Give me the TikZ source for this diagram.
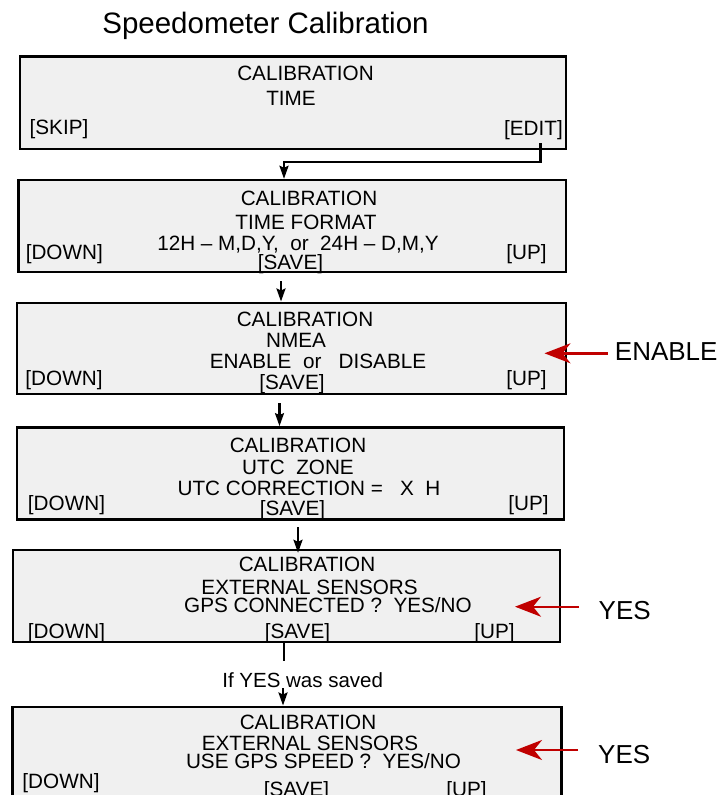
\documentclass[tikz,border=0pt]{standalone}
\usepackage{fontspec}
\setmainfont{Liberation Sans}
\usepackage{xcolor}
\usetikzlibrary{arrows.meta}

\definecolor{screengray}{RGB}{240,240,240}
\definecolor{pickred}{RGB}{192,0,0}
\newcommand{\scrsize}{\fontsize{20.7pt}{24pt}\selectfont}
\newcommand{\notesize}{\fontsize{20.5pt}{24pt}\selectfont}
\newcommand{\picksize}{\fontsize{26pt}{31pt}\selectfont}

\begin{document}
\begin{tikzpicture}[x=1pt, y=-1pt,
		screen/.style={rectangle, draw=black, line width=2.4pt, fill=screengray, inner sep=0pt},
		txt/.style={anchor=base, inner sep=0pt, font=\scrsize},
		flow/.style={line width=2.3pt, -{Stealth[length=13pt,width=9pt,inset=2pt]}},
		link/.style={line width=2.3pt},
		pick/.style={draw=pickred, line width=2.4pt, -{Stealth[length=26pt,width=20pt,inset=8pt]}},
		pickword/.style={anchor=base west, inner sep=0pt, font=\picksize}]
		
		\useasboundingbox (0,0) rectangle (720,795);
		\clip (0,0) rectangle (720,795);
		
		% Title
		\node[anchor=base, inner sep=0pt, font=\fontsize{29.5pt}{35pt}\selectfont] (title) at (265.5,33.3) {Speedometer Calibration};
		
		% =========================================================
		% Screens
		% =========================================================
		\node[screen, minimum width=546pt, minimum height=92.5pt] (scrtime) at (293,102.75) {};
		\node[screen, minimum width=547.5pt, minimum height=91.7pt] (scrfmt) at (292.25,225.85) {};
		\node[screen, minimum width=549pt, minimum height=91.3pt] (scrnmea) at (291.5,348.35) {};
		\node[screen, minimum width=547pt, minimum height=92pt] (scrutc) at (290.5,473.3) {};
		\node[screen, minimum width=547pt, minimum height=92pt] (scrgps) at (286.5,596) {};
		\node[screen, minimum width=549pt, minimum height=92pt] (scrspeed) at (287,752.7) {};
		
		% Screen 1: time
		\node[txt] (cal1) at (305.5,80.7) {CALIBRATION};
		\node[txt] (time1) at (291,105) {TIME};
		\node[txt] (skip1) at (59,134.5) {[SKIP]};
		\node[txt] (edit1) at (533.5,135.5) {[EDIT]};
		
		% Screen 2: time format
		\node[txt] (cal2) at (309,205) {CALIBRATION};
		\node[txt] (fmt2) at (306,229.3) {TIME FORMAT};
		\node[txt] (opt2) at (298,250) {12H – M,D,Y,\ \ or\ \ 24H – D,M,Y};
		\node[txt] (down2) at (64.3,259.3) {[DOWN]};
		\node[txt] (up2) at (526.5,259.3) {[UP]};
		\node[txt] (save2) at (290.5,269.3) {[SAVE]};
		
		% Screen 3: NMEA
		\node[txt] (cal3) at (305,326.7) {CALIBRATION};
		\node[txt] (nmea3) at (296,347.3) {NMEA};
		\node[txt] (opt3) at (318,368.7) {ENABLE\ \ or\ \ \ DISABLE};
		\node[txt] (down3) at (64,385) {[DOWN]};
		\node[txt] (save3) at (292,389) {[SAVE]};
		\node[txt] (up3) at (526.5,385) {[UP]};
		
		% Screen 4: UTC zone
		\node[txt] (cal4) at (298,452.7) {CALIBRATION};
		\node[txt] (zone4) at (298,474) {UTC\ \ ZONE};
		\node[txt] (corr4) at (309,495) {UTC CORRECTION =\ \ \ X\ \ H};
		\node[txt] (down4) at (66.5,510.7) {[DOWN]};
		\node[txt] (save4) at (292.5,515) {[SAVE]};
		\node[txt] (up4) at (528.5,510.7) {[UP]};
		
		% Screen 5: GPS connected
		\node[txt] (cal5) at (307,571.7) {CALIBRATION};
		\node[txt] (ext5) at (309.6,594) {EXTERNAL SENSORS};
		\node[txt] (gps5) at (328,612.7) {GPS CONNECTED ?\ \ YES/NO};
		\node[txt] (down5) at (66.5,638.3) {[DOWN]};
		\node[txt] (save5) at (297.5,638.3) {[SAVE]};
		\node[txt] (up5) at (494.5,638.3) {[UP]};
		
		% Screen 6: GPS speed
		\node[txt] (cal6) at (308,729.3) {CALIBRATION};
		\node[txt] (ext6) at (310,750.7) {EXTERNAL SENSORS};
		\node[txt] (gps6) at (323.5,768.3) {USE GPS SPEED ?\ \ YES/NO};
		\node[txt] (down6) at (61,788.3) {[DOWN]};
		\node[txt] (save6) at (296.5,796.5) {[SAVE]};
		\node[txt] (up6) at (466.5,796.5) {[UP]};
		
		% Condition
		\node[anchor=base, inner sep=0pt, font=\notesize] (ifyes) at (302.7,687) {If YES was saved};
		
		% =========================================================
		% Flow between screens
		% =========================================================
		\coordinate (editout) at (540.5,143);
		\coordinate (timebend) at (284,162);
		\coordinate (fmtout) at (281,281);
		\coordinate (nmeaout) at (279.5,403);
		\coordinate (utcout) at (298,527);
		\coordinate (gpsout) at (284,642);
		\coordinate (ifyesout) at (283,688);
		
		\draw[flow] (editout) |- (timebend) -- (timebend |- scrfmt.north);
		\draw[flow] (fmtout) -- (fmtout |- scrnmea.north);
		\draw[flow] (nmeaout) -- (nmeaout |- scrutc.north);
		\draw[flow, shorten >=-4pt] (utcout) -- (utcout |- scrgps.north);
		\draw[link] (gpsout) -- ([yshift=11pt]gpsout |- ifyes.north);
		\draw[flow] (ifyesout) -- (ifyesout |- scrspeed.north);
		
		% =========================================================
		% Selected values
		% =========================================================
		\node[pickword] (enable) at (614.7,360) {ENABLE};
		\node[pickword] (yes5) at (598.5,619.3) {YES};
		\node[pickword] (yes6) at (598,763.3) {YES};
		
		\coordinate (nmeatail) at (607.5,353.3);
		\coordinate (nmeatip) at (544.5,353.3);
		\coordinate (gpstail) at (579,606.7);
		\coordinate (gpstip) at (515,606.7);
		\coordinate (speedtail) at (578,750);
		\coordinate (speedtip) at (516,750);
		
		\draw[pick] (nmeatail) -- (nmeatip);
		\draw[pick] (gpstail) -- (gpstip);
		\draw[pick] (speedtail) -- (speedtip);
		
	\end{tikzpicture}
\end{document}
